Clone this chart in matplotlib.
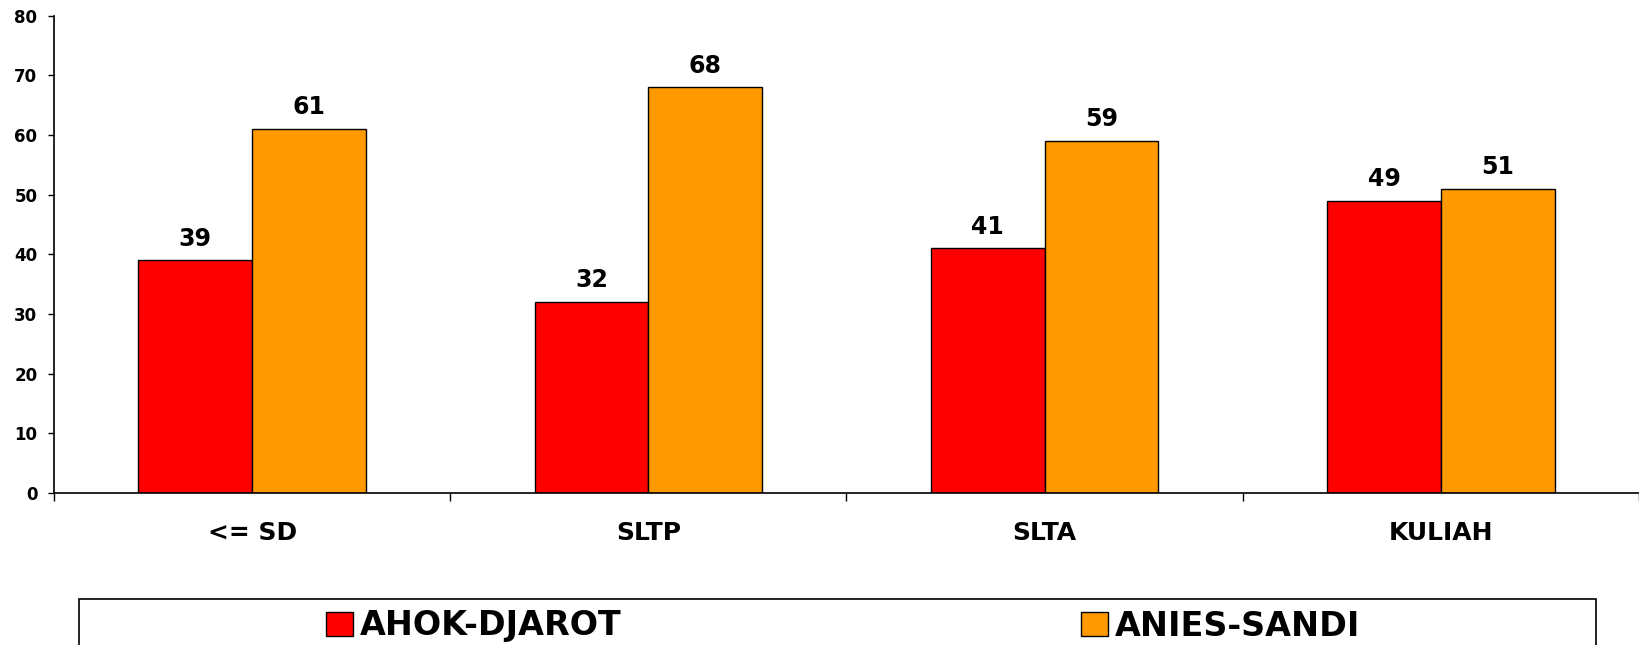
import numpy as np
import matplotlib.pyplot as plt
from matplotlib.patches import Rectangle

categories = ["<= SD", "SLTP", "SLTA", "KULIAH"]
ahok_djarot = [39, 32, 41, 49]
anies_sandi = [61, 68, 59, 51]
series_names = ["AHOK-DJAROT", "ANIES-SANDI"]
colors = ["#FF0000", "#FF9900"]

plt.rcParams.update({
    "font.family": "DejaVu Sans",
    "font.weight": "bold",
})

fig = plt.figure(figsize=(16.4, 6.45), dpi=100)
ax = fig.add_axes([54 / 1640, 0.2357, 1585 / 1640, 0.740])

x = np.arange(len(categories))
w = 0.287
b1 = ax.bar(x - w / 2, ahok_djarot, w, color=colors[0], edgecolor="black",
            linewidth=1.0, label=series_names[0])
b2 = ax.bar(x + w / 2, anies_sandi, w, color=colors[1], edgecolor="black",
            linewidth=1.0, label=series_names[1])
for bars in (b1, b2):
    ax.bar_label(bars, padding=7, fontsize=17, fontweight="bold")

ax.set_xlim(-0.5, len(categories) - 0.5)
ax.set_ylim(0, 80)
ax.set_yticks(np.arange(0, 81, 10))
ax.set_xticks(x)
ax.set_xticklabels(categories, fontsize=18, fontweight="bold")
ax.set_xticks(np.arange(-0.5, len(categories), 1.0), minor=True)
ax.tick_params(axis="x", which="major", length=0, pad=20)
ax.tick_params(axis="x", which="minor", length=6, width=1.0)
ax.tick_params(axis="y", length=4, width=1.0, pad=8, labelsize=12)
for lab in ax.get_yticklabels():
    lab.set_fontweight("bold")

for s in ("top", "right"):
    ax.spines[s].set_visible(False)
for s in ("left", "bottom"):
    ax.spines[s].set_linewidth(1.2)

# legend box, running off the bottom of the figure
fig.patches.append(Rectangle((79 / 1640, -0.1), 1517 / 1640, 0.1 + 1 - 599 / 645,
                             transform=fig.transFigure, facecolor="white",
                             edgecolor="black", linewidth=1.2, clip_on=False))
leg = fig.legend(handles=[b1, b2], labels=series_names, loc="center",
                 bbox_to_anchor=(843 / 1640, 1 - 626 / 645), ncol=2, frameon=False,
                 prop={"size": 24, "weight": "bold"}, handlelength=0.8,
                 handleheight=0.75, handletextpad=0.2, columnspacing=13.8)

fig.savefig("out.png", dpi=100)
